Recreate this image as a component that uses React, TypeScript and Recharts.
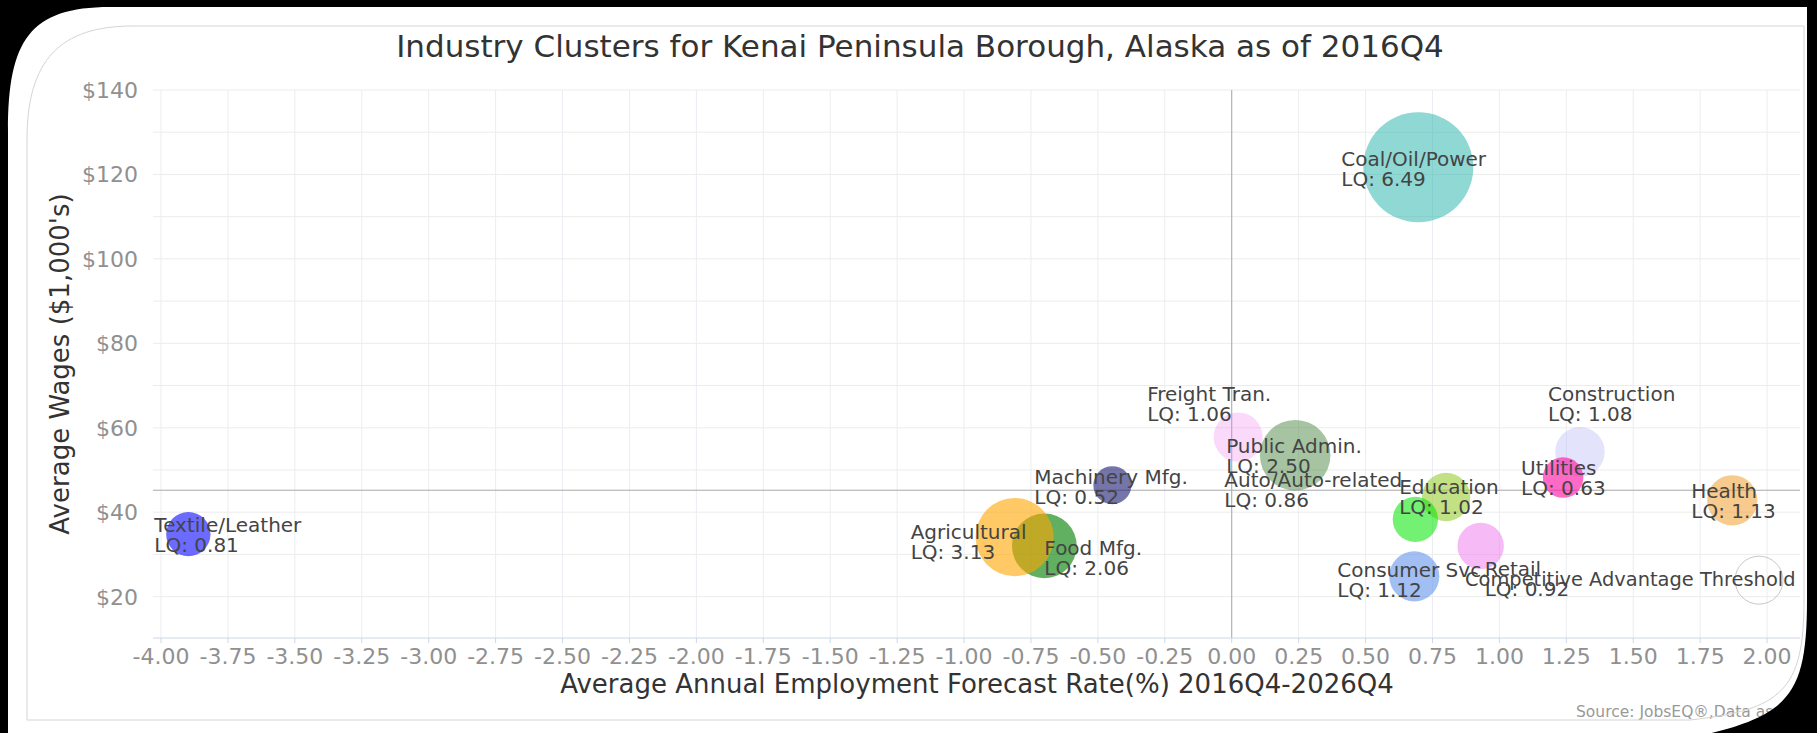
import React from 'react';
import {
  ScatterChart,
  Scatter,
  XAxis,
  YAxis,
  ZAxis,
  CartesianGrid,
  ReferenceLine,
} from 'recharts';

const FONT = "'DejaVu Sans', sans-serif";

// Clusters (x = forecast rate %, y = wages in $1,000s, z = LQ)
const clusterNames = [
  'Textile/Leather',
  'Food Mfg.',
  'Agricultural',
  'Machinery Mfg.',
  'Freight Tran.',
  'Public Admin.',
  'Education',
  'Auto/Auto-related',
  'Consumer Svc.',
  'Retail',
  'Construction',
  'Utilities',
  'Health',
  'Coal/Oil/Power',
  'Competitive Advantage Threshold',
];
const forecastRates = [-3.898, -0.7, -0.811, -0.446, 0.024, 0.237, 0.801, 0.686, 0.682, 0.93, 1.301, 1.238, 1.87, 0.697, 1.97];
const averageWages = [34.8, 32.0, 34.1, 46.4, 57.8, 53.5, 43.6, 38.3, 24.8, 32.0, 54.3, 48.2, 42.8, 121.7, 23.9];
const locationQuotients = [0.81, 2.06, 3.13, 0.52, 1.06, 2.5, 1.02, 0.86, 1.12, 0.92, 1.08, 0.63, 1.13, 6.49, 1.0];

const xTicks = [
  -4, -3.75, -3.5, -3.25, -3, -2.75, -2.5, -2.25, -2, -1.75, -1.5, -1.25,
  -1, -0.75, -0.5, -0.25, 0, 0.25, 0.5, 0.75, 1, 1.25, 1.5, 1.75, 2,
];
const yTicks = [20, 40, 60, 80, 100, 120, 140];
const yGridLines = [20, 30, 40, 50, 60, 70, 80, 90, 100, 110, 120, 130, 140];
const averageWageLine = 45.2;
const thresholdName = 'Competitive Advantage Threshold';

// colours of each bubble
const bubbleStyles: Record<string, { fill: string; opacity: number; stroke?: string }> = {
  'Textile/Leather': { fill: '#0000ff', opacity: 0.58 },
  'Food Mfg.': { fill: '#008000', opacity: 0.62 },
  Agricultural: { fill: '#ffa500', opacity: 0.6 },
  'Machinery Mfg.': { fill: '#191970', opacity: 0.6 },
  'Freight Tran.': { fill: '#ee82ee', opacity: 0.3 },
  'Public Admin.': { fill: '#4e8a46', opacity: 0.5 },
  Education: { fill: '#9acd32', opacity: 0.6 },
  'Auto/Auto-related': { fill: '#00e600', opacity: 0.55 },
  'Consumer Svc.': { fill: '#6495ed', opacity: 0.6 },
  Retail: { fill: '#ee82ee', opacity: 0.55 },
  Construction: { fill: '#b0b0f5', opacity: 0.35 },
  Utilities: { fill: '#ff1aa8', opacity: 0.65 },
  Health: { fill: '#f0a030', opacity: 0.55 },
  'Coal/Oil/Power': { fill: '#20b2aa', opacity: 0.5 },
  [thresholdName]: { fill: 'none', opacity: 0, stroke: '#c8c8c8' },
};

// where each label block sits: left edge and vertical middle, relative to the bubble centre
const labelOffsets: Record<string, [number, number]> = {
  'Textile/Leather': [-34, 1],
  'Food Mfg.': [0, 12],
  Agricultural: [-104, 5],
  'Machinery Mfg.': [-78, 2],
  'Freight Tran.': [-91, -33],
  'Public Admin.': [-69, 1],
  Education: [-47, 0],
  'Auto/Auto-related': [-191, -29],
  'Consumer Svc.': [-77, 4],
  Retail: [4, 33],
  Construction: [-32, -48],
  Utilities: [-42, 0],
  Health: [-41, 1],
  'Coal/Oil/Power': [-77, 2],
  [thresholdName]: [-294, -1],
};

const chartData = clusterNames.map((name, i) => ({
  name,
  x: forecastRates[i],
  y: averageWages[i],
  lq: locationQuotients[i],
}));

function Bubble(props: any) {
  const { cx, cy, payload } = props;
  const r = props.width ? props.width / 2 : Math.sqrt((props.size ?? 64) / Math.PI);
  const s = bubbleStyles[payload.name];
  return (
    <circle
      cx={cx}
      cy={cy}
      r={r}
      fill={s.fill}
      fillOpacity={s.opacity}
      stroke={s.stroke ?? 'none'}
      strokeWidth={1}
    />
  );
}

function BubbleLabel(props: any) {
  const { cx, cy, payload } = props;
  const [dx, dy] = labelOffsets[payload.name] ?? [0, 0];
  const x = cx + dx;
  const mid = cy + dy;
  if (payload.name === thresholdName) {
    return (
      <text x={x} y={mid + 7} fontFamily={FONT} fontSize={19.4} fill="#444">
        {payload.name}
      </text>
    );
  }
  return (
    <text fontFamily={FONT} fontSize={20} fill="#444">
      <tspan x={x} y={mid - 3}>{payload.name}</tspan>
      <tspan x={x} y={mid + 17}>{`LQ: ${payload.lq.toFixed(2)}`}</tspan>
    </text>
  );
}

const XTick = (props: any) => {
  const { x, y, payload } = props;
  return (
    <text x={x} y={y + 18} textAnchor="middle" fontFamily={FONT} fontSize={22} fill="#909090">
      {Number(payload.value).toFixed(2)}
    </text>
  );
};

const YTick = (props: any) => {
  const { x, y, payload } = props;
  return (
    <text x={x} y={y + 8} textAnchor="end" fontFamily={FONT} fontSize={22} fill="#909090">
      {`$${payload.value}`}
    </text>
  );
};

// black picture frame round the white card
const framePath =
  'M0 0 H1817 V733 H0 Z ' +
  'M8 740 L8 131 C8 40 30 7 110 7 L1807 7 L1807 600 C1807 700 1788 718 1680 740 Z';
const innerBorder =
  'M27 720 L27 140 C27 60 60 26 133 26 L1804 26 L1804 600 C1804 690 1782 710 1690 720 Z';

export default function App() {
  return (
    <div
      style={{
        position: 'absolute',
        left: 0,
        top: 0,
        width: 1817,
        height: 733,
        background: '#ffffff',
        overflow: 'hidden',
      }}
    >
      <ScatterChart width={1817} height={733} margin={{ top: 90, right: 17, bottom: 35, left: 33 }}>
        <CartesianGrid horizontal={false} verticalValues={xTicks} stroke="#eaedf2" />
        <CartesianGrid vertical={false} horizontalValues={yGridLines} stroke="#ececec" />
        <XAxis
          type="number"
          dataKey="x"
          domain={[-4.03, 2.123]}
          ticks={xTicks}
          height={60}
          axisLine={{ stroke: '#ccd6eb' }}
          tickLine={{ stroke: '#ccd6eb' }}
          tickSize={5}
          tickMargin={3}
          tick={<XTick />}
          interval={0}
        />
        <YAxis
          type="number"
          dataKey="y"
          domain={[10.2, 140]}
          ticks={yTicks}
          width={120}
          axisLine={false}
          tickLine={false}
          tickSize={0}
          tickMargin={15}
          tick={<YTick />}
          interval={0}
        />
        <ZAxis type="number" dataKey="lq" domain={[0, 'dataMax']} range={[405, 9503]} />
        <ReferenceLine x={0} stroke="#a8a8a8" strokeWidth={1} />
        <ReferenceLine y={averageWageLine} stroke="#a8a8a8" strokeWidth={1} />
        <Scatter data={chartData} shape={<Bubble />} isAnimationActive={false} />
        <Scatter data={chartData} shape={<BubbleLabel />} isAnimationActive={false} />
      </ScatterChart>

      <svg
        width={1817}
        height={733}
        style={{ position: 'absolute', left: 0, top: 0, pointerEvents: 'none' }}
      >
        <text x={920} y={57} textAnchor="middle" fontFamily={FONT} fontSize={31} fill="#333">
          Industry Clusters for Kenai Peninsula Borough, Alaska as of 2016Q4
        </text>
        <text x={977} y={693} textAnchor="middle" fontFamily={FONT} fontSize={26} fill="#333">
          Average Annual Employment Forecast Rate(%) 2016Q4-2026Q4
        </text>
        <text
          x={69}
          y={364}
          transform="rotate(-90 69 364)"
          textAnchor="middle"
          fontFamily={FONT}
          fontSize={26}
          fill="#333"
        >
          Average Wages ($1,000's)
        </text>
        <text x={1576} y={717} fontFamily={FONT} fontSize={15.5} fill="#999">
          Source: JobsEQ®,Data as of 2016Q4
        </text>
        <path d={innerBorder} fill="none" stroke="#d4d4d4" strokeWidth={1} />
        <path d={framePath} fill="#000" fillRule="evenodd" />
      </svg>
    </div>
  );
}
